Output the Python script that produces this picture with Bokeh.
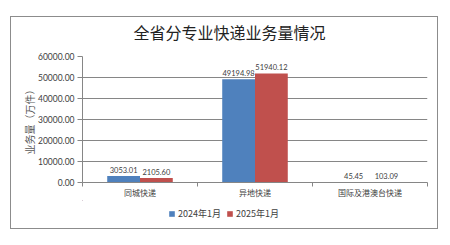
from bokeh.plotting import figure
from bokeh.layouts import column
from bokeh.models import (ColumnDataSource, FixedTicker, NumeralTickFormatter, Legend, LegendItem,
                          Range1d, Label)
from bokeh.core.properties import value
from bokeh.embed import file_html
from bokeh.resources import INLINE
import numpy as np

title_text = "全省分专业快递业务量情况"
categories = ["同城快递", "异地快递", "国际及港澳台快递"]
series_names = ["2024年1月", "2025年1月"]
values_2024 = [3053.01, 49194.98, 45.45]
values_2025 = [2105.60, 51940.12, 103.09]
y_ticks = [0, 10000, 20000, 30000, 40000, 50000, 60000]

colors = ["#4F81BD", "#C0504D"]
num_font = "Lato"
cjk_font = "Noto Sans CJK SC"
gray = "#868686"
txt = "#404040"

centers = np.arange(len(categories)) + 0.5
bar_w = 0.285


def strip(h):
    f = figure(width=428, height=h, output_backend="svg", toolbar_location=None,
               x_range=Range1d(0, 1), y_range=Range1d(0, 1),
               min_border_left=0, min_border_right=0, min_border_top=0, min_border_bottom=0)
    f.axis.visible = False
    f.grid.visible = False
    f.outline_line_color = None
    f.background_fill_color = None
    f.border_fill_color = None
    return f


# title strip
tf = strip(34)
tf.add_layout(Label(x=0.426, y=0.53, text=title_text, text_align="center", text_baseline="middle",
                    text_font=cjk_font, text_font_size="16px", text_color="#222222"))

# main plot
p = figure(width=428, height=150, output_backend="svg", toolbar_location=None,
           x_range=Range1d(0, len(categories)), y_range=Range1d(0, 60000),
           min_border_left=72, min_border_right=11, min_border_top=6, min_border_bottom=17)
p.outline_line_color = None
p.background_fill_color = "white"
p.border_fill_color = None

sources = []
for i, (vals, c) in enumerate(zip([values_2024, values_2025], colors)):
    xs = centers + (i - 0.5) * bar_w
    src = ColumnDataSource(dict(x=xs, top=vals, lab=["%.2f" % v for v in vals]))
    sources.append(src)
    p.vbar(x="x", top="top", width=bar_w, source=src, fill_color=c, line_color=None)
    p.text(x="x", y="top", text="lab", source=src, text_align="center", text_baseline="bottom",
           y_offset=-3, text_font=value(num_font), text_font_size="7.5px", text_color=txt)

# y axis
ya = p.yaxis[0]
ya.ticker = FixedTicker(ticks=y_ticks)
ya.formatter = NumeralTickFormatter(format="0.00")
ya.axis_line_color = gray
ya.major_tick_line_color = gray
ya.major_tick_out = 5
ya.major_tick_in = 0
ya.minor_tick_line_color = None
ya.major_label_text_font = num_font
ya.major_label_text_font_size = "8.5px"
ya.major_label_text_color = txt
ya.major_label_standoff = 3
ya.axis_label = "业务量（万件）"
ya.axis_label_text_font = cjk_font
ya.axis_label_text_font_size = "10px"
ya.axis_label_text_font_style = "normal"
ya.axis_label_text_color = "#595959"
ya.axis_label_standoff = -2

# x axis
xa = p.xaxis[0]
xa.ticker = FixedTicker(ticks=list(centers), minor_ticks=list(range(len(categories) + 1)))
xa.major_label_overrides = {float(c): cat for c, cat in zip(centers, categories)}
xa.axis_line_color = gray
xa.major_tick_line_color = None
xa.major_tick_out = 1
xa.major_tick_in = 0
xa.minor_tick_line_color = gray
xa.minor_tick_out = 4
xa.minor_tick_in = 0
xa.major_label_text_font = cjk_font
xa.major_label_text_font_size = "8px"
xa.major_label_text_color = txt
xa.major_label_standoff = 0

p.xgrid.grid_line_color = None
p.ygrid.ticker = FixedTicker(ticks=y_ticks)
p.ygrid.grid_line_color = gray
p.ygrid.grid_line_width = 1

# legend strip (its bars share the data but sit outside its visible ranges)
lg = strip(29)
lg.x_range = Range1d(10, 11)
lg.y_range = Range1d(-2, -1)
leg_renderers = [lg.vbar(x="x", top="top", width=bar_w, source=s, fill_color=c, line_color=None)
                 for s, c in zip(sources, colors)]

legend = Legend(items=[LegendItem(label=n, renderers=[r]) for n, r in zip(series_names, leg_renderers)],
                orientation="horizontal", location=(86, 9))
legend.border_line_color = None
legend.background_fill_alpha = 0
legend.padding = 0
legend.margin = 0
legend.spacing = 5
legend.label_standoff = 3
legend.glyph_width = 7
legend.glyph_height = 7
legend.label_text_font = cjk_font
legend.label_text_font_size = "9px"
legend.label_text_color = txt
lg.add_layout(legend, "center")

layout = column(tf, p, lg, spacing=0, margin=(16, 0, 0, 10),
                styles={"outline": "1px solid #8c8c8c", "outline-offset": "-1px"})

open("out.html", "w").write(file_html(layout, INLINE))
